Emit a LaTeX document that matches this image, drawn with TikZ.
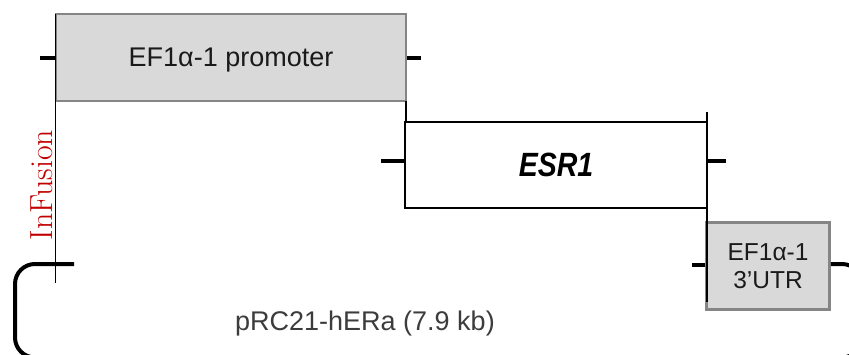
\documentclass[tikz,border=0pt]{standalone}
\usepackage{fontspec}
\newfontfamily\arialf{Liberation Sans}
\definecolor{boxgray}{HTML}{D9D9D9}
\definecolor{edgegray}{HTML}{858585}
\definecolor{infred}{HTML}{C00000}
\definecolor{txt}{HTML}{1A1A1A}
\tikzset{
  graybox/.style={draw=edgegray, line width=2.5pt, fill=boxgray, inner sep=0pt, text=txt},
  whitebox/.style={draw=black, line width=2.5pt, fill=white, inner sep=0pt, text=black},
  tick/.style={draw=black, line width=4pt},
  guide/.style={draw=black, line width=1.3pt},
  loopline/.style={draw=black, line width=4pt, rounded corners=20pt},
}
\begin{document}
\begin{tikzpicture}[x=1pt,y=-1pt]
\useasboundingbox (0,0) rectangle (849,354);
% boxes
\node[graybox, minimum width=350pt, minimum height=87pt, text depth=0pt,
      font=\arialf\fontsize{27}{30}\selectfont] (prom) at (231,57.5) {EF1α-1 promoter};
\node[whitebox, minimum width=302pt, minimum height=86pt,
      font=\arialf\bfseries\itshape\fontsize{28.5}{32}\selectfont] (esr) at (556,165) {\scalebox{1}[1.18]{ESR1}};
\node[graybox, minimum width=123pt, minimum height=87pt, align=center,
      font=\arialf\fontsize{24.5}{28}\selectfont] (utr) at (768,266) {EF1α-1\\3’UTR};
% guide lines
\coordinate (g1a) at (55.5,14);
\coordinate (g1b) at (55.5,283);
\draw[guide] (g1a) -- (g1b);
\coordinate (g2a) at (406,101);
\coordinate (g2b) at (406,122);
\draw[guide] (g2a) -- (g2b);
\coordinate (g3a) at (707,112);
\coordinate (g3b) at (707,302);
\draw[guide] (g3a) -- (g3b);
% ticks
\coordinate (t1) at (40,58);
\coordinate (t2) at (421,58);
\coordinate (t3) at (381,161);
\coordinate (t4) at (726,161);
\coordinate (t5) at (692,265);
\draw[tick] (t1) -- (prom.west |- t1);
\draw[tick] (prom.east |- t2) -- (t2);
\draw[tick] (t3) -- (esr.west |- t3);
\draw[tick] (esr.east |- t4) -- (t4);
\draw[tick] (t5) -- (utr.west |- t5);
% loop
\coordinate (l0) at (74,264);
\coordinate (l1) at (15,357.5);
\coordinate (l2) at (862,264);
\begin{scope}
\clip (0,0) rectangle (849,354);
\draw[loopline] (l0) -| (l1) -| (l2) -- (utr.east |- l2);
\end{scope}
% labels
\node[font=\fontsize{32}{34}\selectfont, text=infred, rotate=90] (inf) at (42,185) {InFusion};
\node[font=\arialf\fontsize{27}{30}\selectfont, text=txt!85!white] (plas) at (365,324) {pRC21-hERa (7.9 kb)};
\end{tikzpicture}
\end{document}
